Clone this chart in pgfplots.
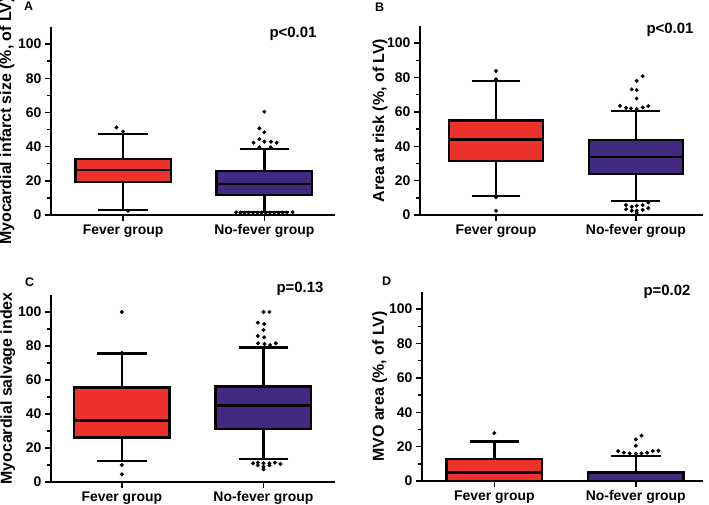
\documentclass[border=0pt]{standalone}
\usepackage{pgfplots}
\pgfplotsset{compat=1.18}
\usepgfplotslibrary{statistics}
\usepackage{fontspec}
\setmainfont{Liberation Sans}
\definecolor{fred}{RGB}{236,50,42}
\definecolor{fpurple}{RGB}{66,40,128}

\pgfplotsset{
 panel/.style={
  scale only axis, anchor=south west,
  axis lines=left, axis line style={-, line width=1.6bp},
  ymin=0, ymax=110, ytick={0,20,...,100}, minor ytick={10,30,...,90},
  xtick={0,1}, xticklabels={Fever group, No-fever group},
  tick align=outside, major tick length=6bp, minor tick length=4bp,
  every tick/.style={black, line width=1.4bp},
  tick label style={font=\fontsize{14}{16}\selectfont\bfseries},
  label style={font=\fontsize{16}{18}\selectfont\bfseries},
  /pgf/number format/assume math mode=true,
  clip=false,
  boxplot/draw direction=y,
 },
 bx/.style={boxplot prepared={#1, box extend=0.675, whisker extend=0.35}, draw=black, line width=2.4bp, solid, mark=none},
 out/.style={only marks, mark=*, mark size=1.8bp, draw=black, fill=black},
}

\begin{document}
\begin{tikzpicture}
\useasboundingbox (0,0) rectangle (709bp,505bp);

% Panel A
\begin{axis}[panel, at={(51bp,290bp)}, width=284bp, height=188bp,
  xmin=-0.51, xmax=1.5,
  ylabel={Myocardial infarct size (\%, of LV)},
  ylabel style={at={(axis description cs:-0.155,0.5)}, anchor=center}]
\addplot[bx={draw position=0, lower whisker=2.9, lower quartile=19.4, median=26.2, upper quartile=32.6, upper whisker=47.5}, fill=fred] coordinates {};
\addplot[bx={draw position=1, lower whisker=1.8, lower quartile=11.7, median=18.1, upper quartile=25.7, upper whisker=38.6}, fill=fpurple] coordinates {};
\addplot[out] coordinates {(-0.047,51.2) (0,48.8) (0.035,2.5)};
\addplot[out] coordinates {(1,60.4) (0.965,50.7) (1,48.4) (0.965,44.4) (0.924,42.3) (1,42.9) (1.047,42.9) (1.087,42.3) (0.965,39.6) (1.045,39.6)
 (0.80,1.6) (0.83,1.4) (0.86,1.4) (0.89,1.4) (0.92,1.4) (0.95,1.4) (0.98,1.4) (1.01,1.4) (1.04,1.4) (1.07,1.4) (1.10,1.4) (1.13,1.4) (1.16,1.4) (1.20,1.6)};
\end{axis}

% Panel B
\begin{axis}[panel, at={(420bp,290bp)}, width=283bp, height=189bp,
  xmin=-0.543, xmax=1.479,
  ylabel={Area at risk (\%, of LV)},
  ylabel style={at={(axis description cs:-0.141,0.5)}, anchor=center}]
\addplot[bx={draw position=0, lower whisker=11.0, lower quartile=31.4, median=44.0, upper quartile=55.1, upper whisker=78.1}, fill=fred] coordinates {};
\addplot[bx={draw position=1, lower whisker=8.3, lower quartile=23.7, median=33.9, upper quartile=43.6, upper whisker=60.6}, fill=fpurple] coordinates {};
\addplot[out] coordinates {(0,83.9) (0,79.0) (0,10.3) (0,2.5)};
\addplot[out] coordinates {(1.048,80.8) (1.005,78.1) (0.97,73.1) (1.005,72.7) (1.005,67.8) (0.886,63.5) (0.929,62.4) (0.964,62.0) (1.005,61.6) (1.048,62.6) (1.088,63.4)
 (0.929,5.8) (0.97,4.8) (1.005,5.4) (1.048,5.8) (1.088,7.2) (0.929,3.3) (0.97,2.5) (1.005,2.5) (1.048,3.0) (1.088,3.9) (1.005,1.2)};
\end{axis}

% Panel C
\begin{axis}[panel, at={(51bp,23bp)}, width=284bp, height=187bp,
  xmin=-0.50, xmax=1.505,
  ylabel={Myocardial salvage index},
  ylabel style={at={(axis description cs:-0.152,0.5)}, anchor=center}]
\addplot[bx={draw position=0, lower whisker=12.4, lower quartile=26.1, median=36.1, upper quartile=55.7, upper whisker=75.7}, fill=fred] coordinates {};
\addplot[bx={draw position=1, lower whisker=13.5, lower quartile=31.2, median=44.9, upper quartile=56.1, upper whisker=79.2}, fill=fpurple] coordinates {};
\addplot[out] coordinates {(0,100) (0,76) (0,10) (0,4.5)};
\addplot[out] coordinates {(1,100) (1.042,100) (0.96,93.7) (1.005,92.9) (1,89.4) (0.96,85.9) (1.005,85.1) (0.962,81.6) (1.007,81.2) (1.047,80.6) (1.087,81.6)
 (0.927,11) (0.96,11.4) (1.0,11) (1.042,11) (1.08,11.4) (1.12,10.6) (0.96,9.8) (1.0,9) (1.042,9.8) (1.0,7.5)};
\end{axis}

% Panel D
\begin{axis}[panel, at={(422bp,24bp)}, width=281bp, height=189bp,
  xmin=-0.511, xmax=1.475,
  ylabel={MVO area (\%, of LV)},
  ylabel style={at={(axis description cs:-0.15,0.5)}, anchor=center}]
\addplot[bx={draw position=0, lower whisker=0, lower quartile=0, median=5.0, upper quartile=12.8, upper whisker=22.9}, fill=fred] coordinates {};
\addplot[bx={draw position=1, lower whisker=0, lower quartile=0, median=0, upper quartile=5.0, upper whisker=14.7}, fill=fpurple] coordinates {};
\addplot[out] coordinates {(0,27.9)};
\addplot[out] coordinates {(1.04,26.4) (1,24.2) (1,20.5) (0.875,17.4) (0.915,16.5) (0.957,16.1) (1,15.9) (1.04,16.1) (1.08,16.5) (1.12,17.4) (1.16,17.6)};
\end{axis}

% panel letters and p-values
\begin{scope}[every node/.style={font=\bfseries}]
\node[font=\fontsize{12.5}{14}\selectfont\bfseries, anchor=north west, inner sep=0pt] at (24bp,503bp) {A};
\node[font=\fontsize{12.5}{14}\selectfont\bfseries, anchor=north west, inner sep=0pt] at (375bp,502bp) {B};
\node[font=\fontsize{12.5}{14}\selectfont\bfseries, anchor=north west, inner sep=0pt] at (25bp,227bp) {C};
\node[font=\fontsize{12.5}{14}\selectfont\bfseries, anchor=north west, inner sep=0pt] at (382bp,228bp) {D};
\node[font=\fontsize{15}{17}\selectfont\bfseries, inner sep=0pt] at (293bp,471bp) {p<0.01};
\node[font=\fontsize{15}{17}\selectfont\bfseries, inner sep=0pt] at (670bp,475bp) {p<0.01};
\node[font=\fontsize{15}{17}\selectfont\bfseries, inner sep=0pt] at (300bp,216bp) {p=0.13};
\node[font=\fontsize{15}{17}\selectfont\bfseries, inner sep=0pt] at (667bp,213bp) {p=0.02};
\end{scope}
\end{tikzpicture}
\end{document}
